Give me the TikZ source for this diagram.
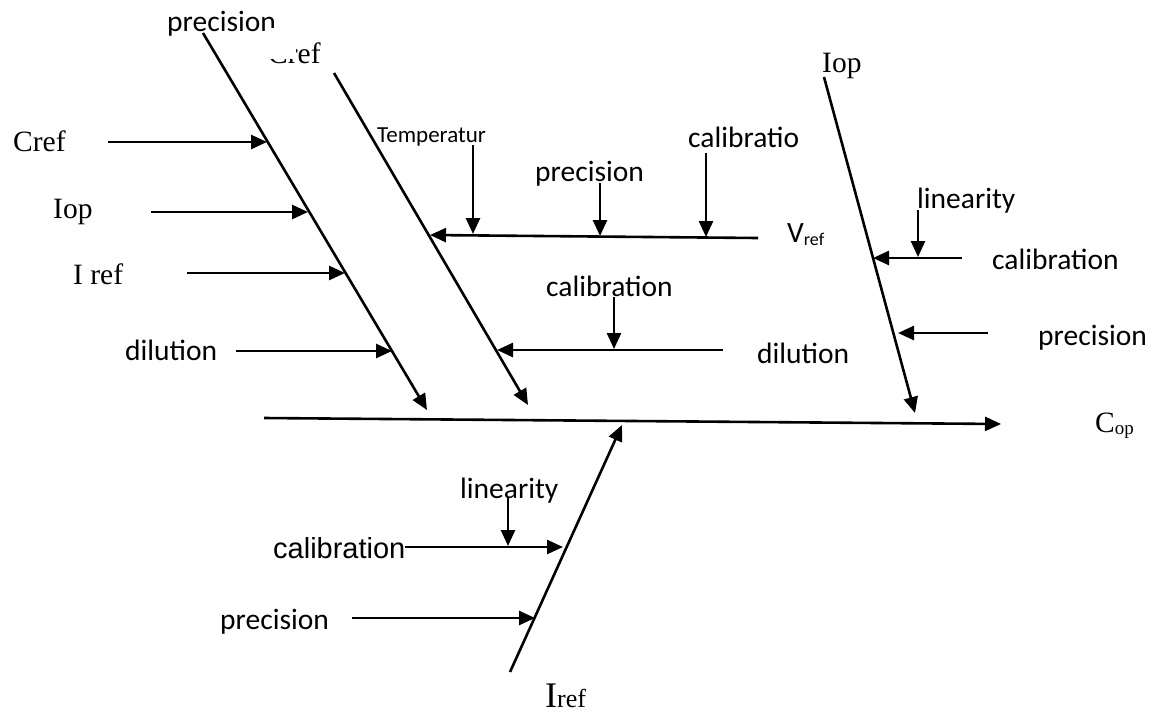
\documentclass[tikz,border=0pt]{standalone}
\usepackage{fontspec}
\setmainfont{Liberation Serif}
\newfontfamily\calfont{Carlito}
\newfontfamily\arifont{Liberation Sans}
\usetikzlibrary{arrows.meta}
\begin{document}
\begin{tikzpicture}[x=1pt,y=-1pt,
  arrowline/.style={line width=2.6pt,-{Triangle[length=16pt,width=14pt]}},
  clab/.style={font=\calfont\fontsize{29.5}{29.5}\selectfont,inner sep=0pt,anchor=base west},
  slab/.style={font=\calfont\fontsize{23}{23}\selectfont,inner sep=0pt,anchor=base west},
  alab/.style={font=\arifont\fontsize{29}{29}\selectfont,inner sep=0pt,anchor=base west},
  tlab/.style={font=\fontsize{29.5}{29.5}\selectfont,inner sep=0pt,anchor=base west}]
\useasboundingbox[fill=white] (0,0) rectangle (1161,713);

% ---------- coordinates ----------
\coordinate (b1s) at (203,33);  \coordinate (b1e) at (427,410);
\coordinate (b2s) at (334,73);  \coordinate (b2e) at (528,405);
\coordinate (b3s) at (824,77);  \coordinate (b3e) at (915,413);
\coordinate (sps) at (264,418); \coordinate (spe) at (1001,424);
\coordinate (b4s) at (510,672); \coordinate (b4e) at (622,425);

\coordinate (crefS) at (108,142); \coordinate (crefT) at (267,142);
\coordinate (iopS) at (151,212);  \coordinate (iopT) at (308,212);
\coordinate (irefS) at (187,273); \coordinate (irefT) at (345,273);
\coordinate (dilS) at (236,351);  \coordinate (dilT) at (392,351);

\coordinate (vrefS) at (758,238); \coordinate (vrefT) at (430,235);
\coordinate (tempS) at (473,145); \coordinate (tempT) at (473,234);
\coordinate (precS) at (600,183); \coordinate (precT) at (600,236);
\coordinate (calS) at (706,153);  \coordinate (calT) at (706,237);

\coordinate (dilbS) at (723,350); \coordinate (dilbT) at (497,350);
\coordinate (calbS) at (614,297); \coordinate (calbT) at (614,349);

\coordinate (rcalS) at (962,258); \coordinate (rcalT) at (873,258);
\coordinate (rlinS) at (918,210); \coordinate (rlinT) at (918,257);
\coordinate (rprecS) at (988,333); \coordinate (rprecT) at (898,333);

\coordinate (bcalS) at (405,547); \coordinate (bcalT) at (563,547);
\coordinate (blinS) at (508,497); \coordinate (blinT) at (508,546);
\coordinate (bprecS) at (352,618); \coordinate (bprecT) at (535,618);

% ---------- labels ----------
\node[clab] (lprec1) at (167,31) {precision};
\node[tlab] (lcref1) at (268,63) {Cref};
\fill[white] (265,28) rectangle (296,58.5);
\node[slab] (ltemp) at (377,142) {Temperatur};
\node[clab] (lprec2) at (535,181) {precision};
\node[clab] (lcal1) at (688,147) {calibratio};
\node[clab] (lvref) at (787,242) {V\raisebox{-3pt}{\fontsize{18}{18}\selectfont ref}};
\node[clab] (lcal2) at (546,296) {calibration};
\node[clab] (ldil2) at (757,363) {dilution};
\node[tlab] (liop2) at (822,72) {Iop};
\node[clab] (llin1) at (917,208) {linearity};
\node[clab] (lcal3) at (992,269) {calibration};
\node[clab] (lprec3) at (1038,345) {precision};
\node[tlab] (lcop) at (1095,432) {C\raisebox{-2pt}{\fontsize{19}{19}\selectfont op}};
\node[tlab] (lcref2) at (13,151) {Cref};
\node[tlab] (liop1) at (53,218) {Iop};
\node[tlab] (liref1) at (73,284) {I ref};
\node[clab] (ldil1) at (125,360) {dilution};
\node[clab] (llin2) at (460,498) {linearity};
\node[alab] (lcal4) at (273,558) {calibration};
\node[clab] (lprec4) at (220,629) {precision};
\node[tlab] (liref2) at (545,707) {{\fontsize{36}{36}\selectfont I}{\fontsize{26}{26}\selectfont ref}};

% ---------- bones ----------
\draw[arrowline] (b1s) -- (b1e);
\draw[arrowline] (b2s) -- (b2e);
\draw[arrowline] (b3s) -- (b3e);
\draw[arrowline] (sps) -- (spe);
\draw[arrowline] (b4s) -- (b4e);

% ---------- branches ----------
\draw[arrowline] (crefS) -- (crefT);
\draw[arrowline] (iopS) -- (iopT);
\draw[arrowline] (irefS) -- (irefT);
\draw[arrowline] (dilS) -- (dilT);

\draw[arrowline] (vrefS) -- (vrefT);
\draw[arrowline] (tempS) -- (tempT);
\draw[arrowline] (precS) -- (precT);
\draw[arrowline] (calS) -- (calT);

\draw[arrowline] (dilbS) -- (dilbT);
\draw[arrowline] (calbS) -- (calbT);

\draw[arrowline] (rcalS) -- (rcalT);
\draw[arrowline] (rlinS) -- (rlinT);
\draw[arrowline] (rprecS) -- (rprecT);

\draw[arrowline] (bcalS) -- (bcalT);
\draw[arrowline] (blinS) -- (blinT);
\draw[arrowline] (bprecS) -- (bprecT);
\end{tikzpicture}
\end{document}
